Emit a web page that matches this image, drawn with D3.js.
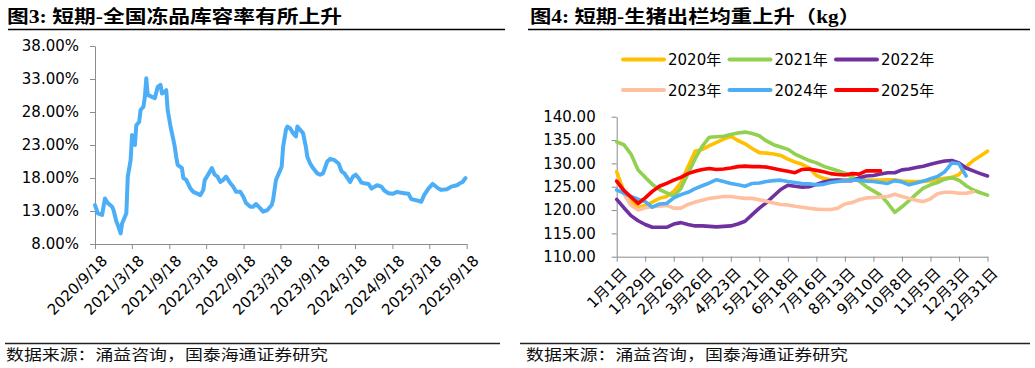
<!DOCTYPE html>
<html><head><meta charset="utf-8">
<script src="https://cdn.jsdelivr.net/npm/d3@7/dist/d3.min.js"></script>
<style>
body{margin:0;background:#fff;}
svg{display:block;}
.tick text{font-family:"DejaVu Sans","Noto Sans CJK SC",sans-serif;fill:#000;}
</style></head><body>
<svg id="c" width="1035" height="368"></svg>
<script>
// ---------- Left chart data: national frozen-goods storage ratio (%) ----------
const leftTitle = "图3:  短期-全国冻品库容率有所上升";
const leftStart = "2020/9/18";
const leftWeekOffsets = [0,2,5,7,9,12,13,15,16,18,19,22,23,25,26,28,29,31,32,34,35,36,37,40,42,44,46,47,49,50,51,53,55,56,57,58,61,62,64,67,69,71,74,76,77,78,82,84,86,88,90,92,95,97,99,102,104,106,109,111,113,116,118,121,123,124,125,127,129,131,132,134,135,137,139,141,142,144,146,148,149,151,153,156,158,160,163,165,168,171,173,175,179,181,183,185,187,189,192,194,198,201,203,206,209,212,214,217,220,222,226,229,231,234,237,241,243,247,250,254,256,258,260];
const leftValues = [13.9,12.65,12.4,14.9,14.2,13.65,13.15,11.4,10.9,9.6,11.1,12.65,18.2,20.7,24.5,23.0,26.0,26.5,28.3,28.8,30.3,33.1,30.6,30.3,30.1,31.8,32.1,30.8,31.1,31.3,28.3,25.8,23.8,22.7,21.2,20.0,19.5,18.0,17.7,16.4,15.9,15.7,15.4,16.2,17.7,18.0,19.5,18.5,18.2,17.4,17.7,18.2,17.2,16.7,15.9,15.9,15.2,14.2,13.65,13.65,14.06,13.4,12.9,13.15,13.65,13.9,14.7,17.7,18.7,19.7,22.7,25.3,25.8,25.5,24.8,24.3,25.8,25.3,24.8,22.7,21.2,20.2,19.5,18.7,18.5,18.7,20.5,20.9,20.7,20.2,19.0,18.7,17.4,18.2,18.5,18.0,17.3,17.2,17.1,16.4,16.9,16.7,16.1,15.7,15.6,15.9,15.8,15.7,15.6,14.8,14.6,14.4,15.4,16.4,17.1,16.4,16.2,16.3,16.7,16.9,17.2,17.4,18.0];
const leftXTicks = ["2020/9/18","2021/3/18","2021/9/18","2022/3/18","2022/9/18","2023/3/18","2023/9/18","2024/3/18","2024/9/18","2025/3/18","2025/9/18"];
const leftYTicks = [8,13,18,23,28,33,38];

// ---------- Right chart data: average slaughter weight of hogs (kg), weekly ----------
const rightTitle = "图4:  短期-生猪出栏均重上升（kg）";
const rightXTicks = ["1月1日","1月29日","2月26日","3月26日","4月23日","5月21日","6月18日","7月16日","8月13日","9月10日","10月8日","11月5日","12月3日","12月31日"];
const rightYTicks = [110,115,120,125,130,135,140];
const years = ["2020年","2021年","2022年","2023年","2024年","2025年"];
const s2020 = [128.2,124.0,122.0,120.5,121.0,121.7,122.5,122.9,124.0,125.8,129.3,132.6,133.0,133.8,134.5,135.2,135.8,134.9,134.2,133.2,132.3,132.2,132.0,131.7,130.9,130.3,129.8,129.0,127.4,126.8,126.5,126.4,126.4,126.6,126.5,126.4,126.4,126.4,126.5,126.5,126.2,126.1,126.1,126.1,126.3,126.6,126.8,127.0,127.6,129.3,130.6,131.6,132.6];
const s2021 = [134.6,134.0,132.0,128.6,127.0,125.5,124.4,123.7,123.0,124.6,127.8,131.0,133.7,135.6,135.7,135.8,136.2,136.5,136.7,136.4,135.9,134.8,134.0,133.5,133.0,132.0,131.3,130.6,130.1,129.4,128.9,128.4,127.9,127.1,126.2,125.0,124.1,123.2,121.5,119.5,120.7,122.0,123.4,124.7,125.4,125.9,126.6,126.9,126.4,125.2,124.3,123.7,123.2];
const s2022 = [122.3,120.5,118.8,117.7,116.9,116.3,116.3,116.3,117.0,117.3,116.9,116.6,116.6,116.5,116.4,116.5,116.6,117.0,117.6,119.0,120.4,121.6,123.0,124.4,125.3,125.1,124.9,125.0,125.5,126.0,126.3,126.4,126.3,126.3,126.9,127.3,127.4,127.7,128.0,128.0,128.6,128.8,129.1,129.4,129.8,130.2,130.5,130.6,130.1,129.0,128.4,127.8,127.3];
const s2023 = [126.5,123.5,121.0,120.0,120.5,120.7,120.8,121.0,120.4,120.4,121.2,121.7,122.1,122.5,122.7,122.9,122.9,122.7,122.5,122.5,122.2,121.9,121.5,121.2,121.1,120.8,120.6,120.4,120.2,120.1,120.1,120.4,121.3,121.6,122.2,122.6,122.7,122.8,122.9,123.4,122.9,122.5,122.1,121.8,122.4,123.5,123.8,123.8,123.6,123.6,123.9];
const s2024 = [124.3,123.6,122.9,122.3,121.8,120.6,121.3,121.4,122.6,123.3,123.8,124.6,125.2,125.8,126.5,126.1,125.7,125.4,125.1,125.7,125.8,126.1,126.3,126.4,126.1,125.9,125.7,125.6,125.4,125.5,125.9,126.1,126.3,126.4,126.4,126.2,126.1,125.9,125.7,126.3,126.0,125.4,125.8,126.2,126.7,127.2,128.2,130.1,129.9,127.3];
const s2025 = [126.2,124.2,122.8,121.4,122.6,124.0,125.1,125.7,126.4,127.0,127.8,128.3,128.7,128.9,128.7,128.8,129.0,129.3,129.4,129.3,129.3,129.2,128.9,128.6,128.3,128.0,128.7,128.8,128.5,128.2,127.8,127.6,127.5,127.8,127.7,128.4,128.4,128.4];
const colors = ["#FFC000","#92D050","#7030A0","#FFC0A0","#4DAEF5","#FF0000"];
const sourceText = "数据来源：涌益咨询，国泰海通证券研究";

const svg = d3.select("#c");
const AX = "#8c8c8c";

function titleBlock(x, text, w, lineX1, lineX2){
  svg.append("text").attr("x", x).attr("y", 23).text(text)
    .attr("font-family", "'Liberation Serif','Noto Sans CJK SC',serif")
    .attr("font-weight", "bold").attr("font-size", 18)
    .attr("textLength", w).attr("lengthAdjust", "spacingAndGlyphs");
  svg.append("line").attr("x1", lineX1).attr("x2", lineX2).attr("y1", 29.5).attr("y2", 29.5)
    .attr("stroke", "#000").attr("stroke-width", 1.5);
}
function footer(x, w, lineX1, lineX2){
  svg.append("line").attr("x1", lineX1).attr("x2", lineX2).attr("y1", 343.5).attr("y2", 343.5)
    .attr("stroke", "#222").attr("stroke-width", 1.5);
  svg.append("text").attr("x", x).attr("y", 360).text(sourceText)
    .attr("font-family", "'Noto Sans CJK SC',sans-serif").attr("font-size", 15).attr("fill", "#111")
    .attr("textLength", w).attr("lengthAdjust", "spacingAndGlyphs");
}
function styleAxis(g){
  g.selectAll(".domain").attr("stroke", AX);
  g.selectAll(".tick line").attr("stroke", AX);
  g.selectAll(".tick text").attr("font-size", 15);
}

// ---------- Left chart ----------
titleBlock(7, leftTitle, 335, 8, 505);
const parseD = d3.timeParse("%Y/%m/%d");
const start = parseD(leftStart);
const xL = d3.scaleTime().domain([parseD(leftXTicks[0]), parseD(leftXTicks[leftXTicks.length-1])]).range([95, 466.7]);
const yL = d3.scaleLinear().domain([8, 38]).range([244, 46]);
const leftData = leftWeekOffsets.map((w, i) => ({d: d3.timeDay.offset(start, w * 7), v: leftValues[i]}));

const gyL = svg.append("g").attr("transform", "translate(95,0)")
  .call(d3.axisLeft(yL).tickValues(leftYTicks).tickSize(5).tickSizeOuter(0).tickPadding(11).tickFormat(d => d3.format(".2f")(d) + "%"));
styleAxis(gyL);
const gxL = svg.append("g").attr("transform", "translate(0,244)")
  .call(d3.axisBottom(xL).tickValues(leftXTicks.map(parseD)).tickSize(5).tickSizeOuter(0).tickFormat((d, i) => leftXTicks[i]));
styleAxis(gxL);
gxL.selectAll(".tick text").attr("text-anchor", "end").attr("dy", 0)
  .attr("transform", "translate(7,12) rotate(-45)");

svg.append("path").datum(leftData)
  .attr("fill", "none").attr("stroke", "#4DAEF8").attr("stroke-width", 4)
  .attr("stroke-linejoin", "round").attr("stroke-linecap", "round")
  .attr("d", d3.line().x(d => xL(d.d)).y(d => yL(d.v)));
footer(6, 322, 5, 500);

// ---------- Right chart ----------
titleBlock(530, rightTitle, 330, 528, 1030);
const xR = d3.scaleLinear().domain([0, 52]).range([616.7, 987.5]);
const yR = d3.scaleLinear().domain([110, 140]).range([256.7, 116.7]);
const gyR = svg.append("g").attr("transform", "translate(616.7,0)")
  .call(d3.axisLeft(yR).tickValues(rightYTicks).tickSize(5).tickSizeOuter(0).tickPadding(16).tickFormat(d3.format(".2f")));
styleAxis(gyR);
const gxR = svg.append("g").attr("transform", "translate(0,256.7)")
  .call(d3.axisBottom(xR).tickValues(rightXTicks.map((_, i) => i * 4)).tickSize(5).tickSizeOuter(0).tickFormat((d, i) => rightXTicks[i]));
styleAxis(gxR);
gxR.selectAll(".tick text").attr("text-anchor", "end").attr("dy", 0)
  .attr("transform", "translate(5,12) rotate(-45)");

const series = [s2020, s2021, s2022, s2023, s2024, s2025];
const lineR = d3.line().x((d, i) => xR(i)).y(d => yR(d));
series.forEach((s, k) => {
  svg.append("path").datum(s)
    .attr("fill", "none").attr("stroke", colors[k]).attr("stroke-width", 3.6)
    .attr("stroke-linejoin", "round").attr("stroke-linecap", "round")
    .attr("d", lineR);
});

// legend
const legX = [623, 729.5, 836];
const legY = [59.5, 90];
years.forEach((yname, k) => {
  const lx = legX[k % 3], ly = legY[Math.floor(k / 3)];
  svg.append("line").attr("x1", lx).attr("x2", lx + 41).attr("y1", ly).attr("y2", ly)
    .attr("stroke", colors[k]).attr("stroke-width", 4).attr("stroke-linecap", "round");
  svg.append("text").attr("x", lx + 45).attr("y", ly + 5.5).text(yname)
    .attr("font-family", "'DejaVu Sans','Noto Sans CJK SC',sans-serif").attr("font-size", 15).attr("fill", "#000");
});
footer(526, 322, 520, 1030);
</script>
</body></html>
